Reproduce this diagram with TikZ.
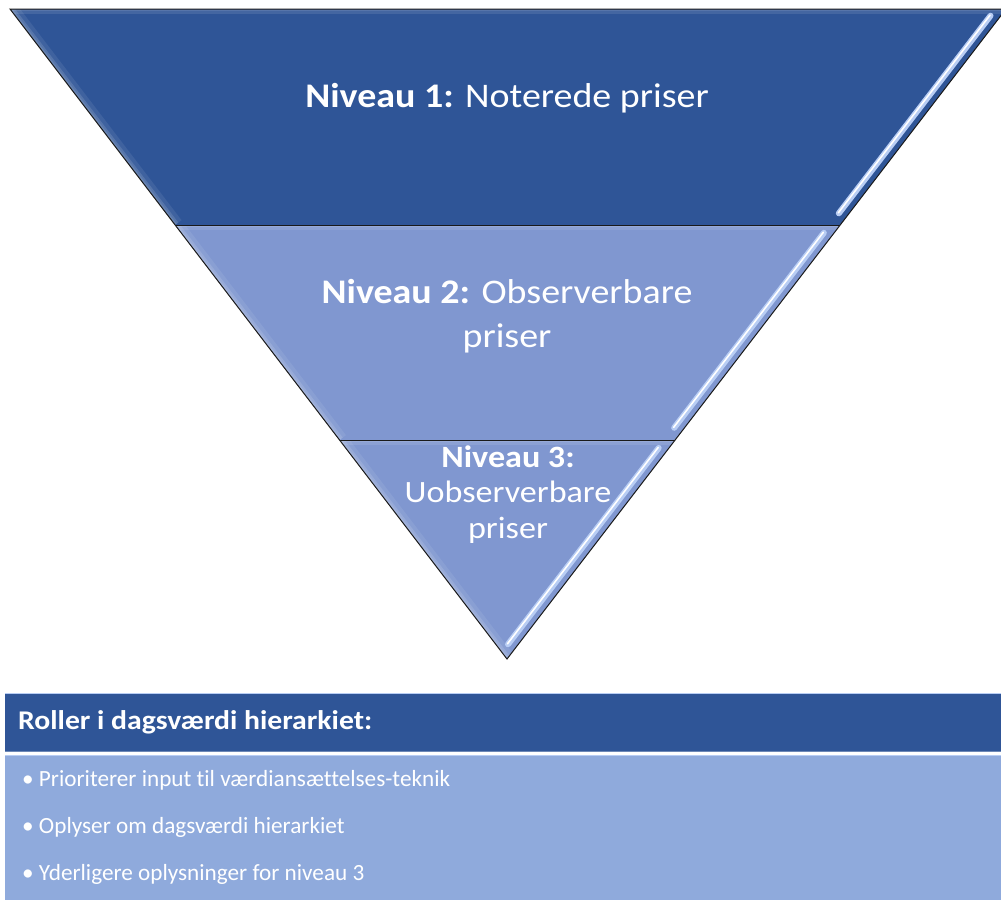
\documentclass[tikz,border=0pt]{standalone}
\usepackage{fontspec}
\setmainfont{Carlito}[Ligatures={NoCommon}]
\newfontfamily\widefont{Carlito}[Ligatures={NoCommon},FakeStretch=1.1]
\usetikzlibrary{calc}
\definecolor{darkblue}{HTML}{2F5597}
\definecolor{midblue}{HTML}{8097D0}
\definecolor{paleblue}{HTML}{8FAADC}
\definecolor{glint}{HTML}{B8CDF4}
\definecolor{edgeline}{HTML}{1A1A1A}
\begin{document}
\begin{tikzpicture}[x=1pt,y=-1pt,
  band/.style={draw=edgeline,line width=1pt,line join=miter},
  sheen/.style={line width=6pt,line cap=round,glint},
  sheencore/.style={line width=1.6pt,line cap=round,white},
  lvlbig/.style={text=white,font=\widefont\fontsize{34.5}{44}\selectfont,align=center,anchor=base,inner sep=0pt},
  lvlsmall/.style={text=white,font=\widefont\fontsize{31}{35.5}\selectfont,align=center,anchor=base,inner sep=0pt},
  headbox/.style={fill=darkblue,draw=none,minimum width=996pt,minimum height=57pt,
    text width=970pt,inner xsep=13pt,align=flush left,text=white,
    font=\widefont\bfseries\fontsize{27}{31}\selectfont},
  bodybox/.style={fill=paleblue,draw=none,minimum width=996pt,minimum height=145pt},
  bullet/.style={text=white,font=\fontsize{23.2}{27}\selectfont,anchor=base west,inner sep=0pt}
]
\useasboundingbox (0,0) rectangle (1001,900);

% corners of the inverted pyramid
\coordinate (tl) at (10,9);
\coordinate (tr) at (1006,9);
\coordinate (apex) at (507,659);
\coordinate (ml) at ($(tl)!0.3323!(apex)$);
\coordinate (mr) at ($(tr)!0.3323!(apex)$);
\coordinate (ll) at ($(tl)!0.6631!(apex)$);
\coordinate (lr) at ($(tr)!0.6631!(apex)$);

% the three bands
\fill[darkblue] (tl) -- (tr) -- (mr) -- (ml) -- cycle;
\fill[midblue] (ml) -- (mr) -- (lr) -- (ll) -- cycle;
\fill[midblue] (ll) -- (lr) -- (apex) -- cycle;

% soft inner glow along the left and top edges of each band
\foreach \a/\b/\c/\d in {tl/tr/mr/ml, ml/mr/lr/ll, ll/lr/apex/apex}{
  \begin{scope}
    \clip (\a) -- (\b) -- (\c) -- (\d) -- cycle;
    \draw[white,opacity=0.08,line width=16pt] (\a) -- (\d);
    \draw[white,opacity=0.12,line width=8pt] (\a) -- (\d);
    \draw[white,opacity=0.10,line width=4pt] (\a) -- (\d);
    \draw[white,opacity=0.10,line width=9pt] (\a) -- (\b);
    \draw[white,opacity=0.10,line width=4pt] (\a) -- (\b);
  \end{scope}
}

% bevel highlight along the right edge
\foreach \s/\e in {0.018/0.322, 0.352/0.652, 0.683/0.985}{
  \draw[sheen] ([shift={(-6.5,-5)}]$(tr)!\s!(apex)$) -- ([shift={(-6.5,-5)}]$(tr)!\e!(apex)$);
  \draw[sheencore] ([shift={(-7,-5.5)}]$(tr)!\s!(apex)$) -- ([shift={(-7,-5.5)}]$(tr)!\e!(apex)$);
}

% outlines
\draw[band] (tl) -- (tr) -- (apex) -- cycle;
\draw[band] (ml) -- (mr);
\draw[band] (ll) -- (lr);

% band labels (anchored on the baseline of their last line)
\node[lvlbig] (n1) at (507,107.5) {\textbf{Niveau 1:} Noterede priser};
\node[lvlbig] (n2) at (507,347) {\textbf{Niveau 2:} Observerbare\\priser};
\node[lvlsmall] (n3) at (508,538) {\textbf{Niveau 3:}\\Uobserverbare\\priser};

% table of roles
\draw[glint,line width=1pt] (5,693.5) -- (1001,693.5);
\node[headbox,anchor=north west] (head) at (5,694) {Roller i dagsværdi hierarkiet:};
\draw[darkblue!70!white,line width=1pt] (5,751) -- (1001,751);
\node[bodybox,anchor=north west] (body) at (5,755) {};
\draw[glint,line width=1pt] (5,755.5) -- (1001,755.5);
\node[bullet] (b1) at (22,786) {• Prioriterer input til værdiansættelses-teknik};
\node[bullet] (b2) at (22,833) {• Oplyser om dagsværdi hierarkiet};
\node[bullet] (b3) at (22,880) {• Yderligere oplysninger for niveau 3};
\end{tikzpicture}
\end{document}
